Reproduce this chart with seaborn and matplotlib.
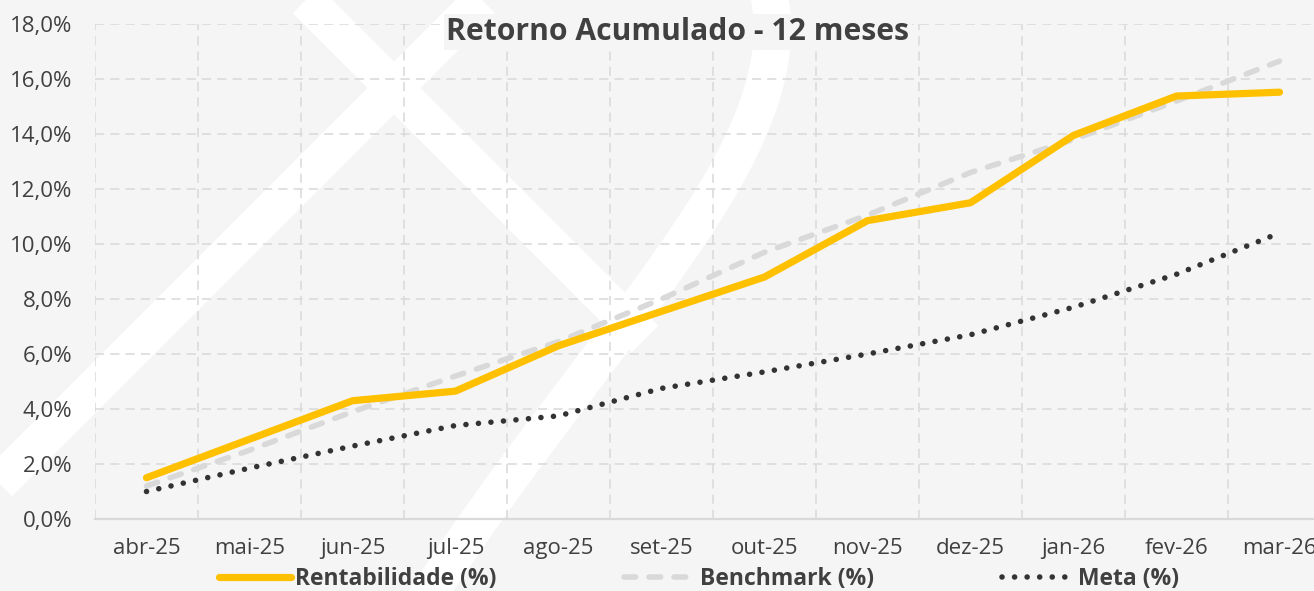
import numpy as np
import seaborn as sns
import matplotlib.pyplot as plt
from matplotlib.lines import Line2D
from matplotlib.path import Path
from matplotlib.patches import PathPatch
from matplotlib.ticker import FixedLocator, FuncFormatter

# data (values in %)
months = ['abr-25', 'mai-25', 'jun-25', 'jul-25', 'ago-25', 'set-25',
          'out-25', 'nov-25', 'dez-25', 'jan-26', 'fev-26', 'mar-26']
rentabilidade = [1.5, 2.9, 4.3, 4.65, 6.3, 7.55, 8.8, 10.85, 11.5, 13.95, 15.38, 15.52]
benchmark = [1.2, 2.5, 3.9, 5.2, 6.45, 8.0, 9.7, 11.05, 12.6, 13.8, 15.2, 16.65]
meta = [1.0, 1.85, 2.65, 3.4, 3.75, 4.75, 5.35, 6.0, 6.7, 7.7, 8.9, 10.4]
yticks = [0, 2, 4, 6, 8, 10, 12, 14, 16, 18]

sns.set_style('white')
plt.rcParams['font.family'] = ['Open Sans', 'DejaVu Sans']

BG = '#f5f5f5'
GRID = '#d9d9d9'
TXT = '#404040'
W, H = 1314, 591

fig = plt.figure(figsize=(W / 100, H / 100), dpi=100, facecolor=BG)


def fc(x, y):
    # pixel position -> figure fraction
    return x / W, 1 - y / H


# white watermark shapes in the background
for (x0, y0), (x1, y1) in [((482, 0), (-120, 602)), ((306, 0), (645, 339))]:
    a, b = fc(x0, y0), fc(x1, y1)
    fig.add_artist(Line2D([a[0], b[0]], [a[1], b[1]], transform=fig.transFigure,
                          color='white', lw=27, solid_capstyle='butt', zorder=-2))
arc_pts = [fc(768, -10), fc(805, 150), fc(600, 330), fc(425, 600)]
arc = PathPatch(Path(arc_pts, [Path.MOVETO, Path.CURVE4, Path.CURVE4, Path.CURVE4]),
                transform=fig.transFigure, fill=False, edgecolor='white', lw=27, zorder=-2)
fig.add_artist(arc)

ax = fig.add_axes([95 / W, 1 - 519 / H, 1236 / W, 495 / H])
ax.set_facecolor('none')

sns.lineplot(x=months, y=rentabilidade, ax=ax, color='#FFC000', lw=5.2,
             solid_capstyle='round', label='Rentabilidade (%)', zorder=4)
sns.lineplot(x=months, y=benchmark, ax=ax, color=GRID, lw=4,
             linestyle=(0, (2.1, 2.4)), dash_capstyle='round',
             label='Benchmark (%)', zorder=3)
sns.lineplot(x=months, y=meta, ax=ax, color='#333333', lw=4,
             linestyle=(0, (0.01, 2.25)), dash_capstyle='round',
             label='Meta (%)', zorder=3)

ax.set_xlim(-0.5, len(months) - 0.5)
ax.set_ylim(0, 18)
ax.set_yticks(yticks)
ax.yaxis.set_major_formatter(FuncFormatter(lambda v, p: f'{v:.1f}%'.replace('.', ',')))
ax.xaxis.set_minor_locator(FixedLocator(np.arange(-0.5, len(months), 1.0)))

for s in ['top', 'right', 'left']:
    ax.spines[s].set_visible(False)
ax.spines['bottom'].set_color(GRID)
ax.spines['bottom'].set_linewidth(1.6)

ax.grid(True, axis='y', which='major', color=GRID, lw=1.1, linestyle=(0, (6, 4)))
ax.grid(True, axis='x', which='minor', color=GRID, lw=1.1, linestyle=(0, (6, 4)))
ax.grid(False, axis='x', which='major')
ax.tick_params(axis='x', which='major', length=0, pad=14, labelsize=16, labelcolor=TXT)
ax.tick_params(axis='x', which='minor', length=7, width=1.1, color=GRID)
ax.tick_params(axis='y', length=0, pad=16.5, labelsize=16, labelcolor=TXT)
ax.set_xlabel('')
ax.set_ylabel('')

handles, labels = ax.get_legend_handles_labels()
ax.get_legend().remove()
fig.legend(handles, labels, loc='center', bbox_to_anchor=(0.532, 0.02), ncol=3,
           frameon=False, handlelength=3.15, handletextpad=0.15, columnspacing=5.6,
           prop={'weight': 'bold', 'size': 16.5}, labelcolor=TXT)

tx, ty = fc(678, 40)
fig.text(tx, ty, 'Retorno Acumulado - 12 meses', ha='center', va='baseline',
         fontsize=21.7, fontweight='bold', color=TXT, zorder=5,
         bbox=dict(facecolor=BG, edgecolor='none', pad=2))

fig.savefig('out.png', dpi=100, facecolor=BG)
